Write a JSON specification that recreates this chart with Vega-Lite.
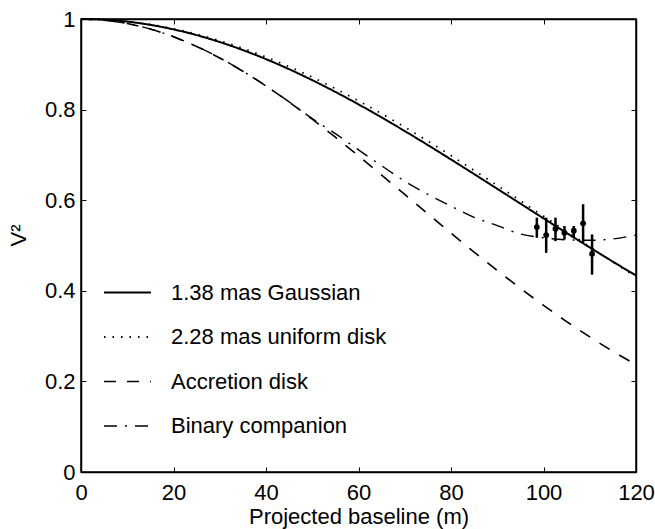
{
  "$schema": "https://vega.github.io/schema/vega-lite/v6.json",
  "width": 555,
  "height": 453,
  "autosize": {"type": "none"},
  "padding": {"left": 81, "top": 19, "right": 19, "bottom": 57},
  "background": "white",
  "config": {
    "font": "Liberation Sans",
    "view": {"stroke": "black", "strokeWidth": 1.5},
    "axis": {"domainColor": "black", "domainWidth": 1.5, "tickColor": "black", "tickWidth": 1, "labelColor": "black", "labelFontSize": 22, "titleFontSize": 22, "titleFontWeight": "normal", "titleColor": "black", "grid": false, "labelFont": "Liberation Sans", "titleFont": "Liberation Sans"}
  },
  "datasets": {
    "curves": [
      {"model": "1.38 mas Gaussian", "x": 0, "v": 1},
      {"model": "1.38 mas Gaussian", "x": 5, "v": 0.99855},
      {"model": "1.38 mas Gaussian", "x": 10, "v": 0.99422},
      {"model": "1.38 mas Gaussian", "x": 15, "v": 0.98703},
      {"model": "1.38 mas Gaussian", "x": 20, "v": 0.97707},
      {"model": "1.38 mas Gaussian", "x": 25, "v": 0.9644},
      {"model": "1.38 mas Gaussian", "x": 30, "v": 0.94914},
      {"model": "1.38 mas Gaussian", "x": 35, "v": 0.93142},
      {"model": "1.38 mas Gaussian", "x": 40, "v": 0.91137},
      {"model": "1.38 mas Gaussian", "x": 45, "v": 0.88918},
      {"model": "1.38 mas Gaussian", "x": 50, "v": 0.86502},
      {"model": "1.38 mas Gaussian", "x": 55, "v": 0.83908},
      {"model": "1.38 mas Gaussian", "x": 60, "v": 0.81155},
      {"model": "1.38 mas Gaussian", "x": 65, "v": 0.78265},
      {"model": "1.38 mas Gaussian", "x": 70, "v": 0.75263},
      {"model": "1.38 mas Gaussian", "x": 75, "v": 0.72164},
      {"model": "1.38 mas Gaussian", "x": 80, "v": 0.68991},
      {"model": "1.38 mas Gaussian", "x": 85, "v": 0.65767},
      {"model": "1.38 mas Gaussian", "x": 90, "v": 0.62513},
      {"model": "1.38 mas Gaussian", "x": 95, "v": 0.5925},
      {"model": "1.38 mas Gaussian", "x": 100, "v": 0.5599},
      {"model": "1.38 mas Gaussian", "x": 105, "v": 0.5276},
      {"model": "1.38 mas Gaussian", "x": 110, "v": 0.4957},
      {"model": "1.38 mas Gaussian", "x": 115, "v": 0.46437},
      {"model": "1.38 mas Gaussian", "x": 120, "v": 0.43378},
      {"model": "2.28 mas uniform disk", "x": 0, "v": 1},
      {"model": "2.28 mas uniform disk", "x": 10, "v": 0.99457},
      {"model": "2.28 mas uniform disk", "x": 20, "v": 0.97844},
      {"model": "2.28 mas uniform disk", "x": 30, "v": 0.95203},
      {"model": "2.28 mas uniform disk", "x": 40, "v": 0.91607},
      {"model": "2.28 mas uniform disk", "x": 50, "v": 0.87149},
      {"model": "2.28 mas uniform disk", "x": 60, "v": 0.81946},
      {"model": "2.28 mas uniform disk", "x": 70, "v": 0.76131},
      {"model": "2.28 mas uniform disk", "x": 80, "v": 0.6985},
      {"model": "2.28 mas uniform disk", "x": 90, "v": 0.63252},
      {"model": "2.28 mas uniform disk", "x": 100, "v": 0.56492},
      {"model": "2.28 mas uniform disk", "x": 110, "v": 0.49719},
      {"model": "2.28 mas uniform disk", "x": 115, "v": 0.46372},
      {"model": "2.28 mas uniform disk", "x": 120, "v": 0.43073},
      {"model": "Accretion disk", "x": 0, "v": 1},
      {"model": "Accretion disk", "x": 5, "v": 0.9975},
      {"model": "Accretion disk", "x": 10, "v": 0.99005},
      {"model": "Accretion disk", "x": 15, "v": 0.97775},
      {"model": "Accretion disk", "x": 20, "v": 0.96079},
      {"model": "Accretion disk", "x": 25, "v": 0.93941},
      {"model": "Accretion disk", "x": 30, "v": 0.91393},
      {"model": "Accretion disk", "x": 35, "v": 0.8847},
      {"model": "Accretion disk", "x": 40, "v": 0.85214},
      {"model": "Accretion disk", "x": 45, "v": 0.81669},
      {"model": "Accretion disk", "x": 50, "v": 0.7788},
      {"model": "Accretion disk", "x": 55, "v": 0.73897},
      {"model": "Accretion disk", "x": 60, "v": 0.69768},
      {"model": "Accretion disk", "x": 65, "v": 0.65541},
      {"model": "Accretion disk", "x": 70, "v": 0.61263},
      {"model": "Accretion disk", "x": 75, "v": 0.56978},
      {"model": "Accretion disk", "x": 80, "v": 0.52729},
      {"model": "Accretion disk", "x": 85, "v": 0.48554},
      {"model": "Accretion disk", "x": 90, "v": 0.44486},
      {"model": "Accretion disk", "x": 95, "v": 0.40555},
      {"model": "Accretion disk", "x": 100, "v": 0.36788},
      {"model": "Accretion disk", "x": 105, "v": 0.33204},
      {"model": "Accretion disk", "x": 110, "v": 0.2982},
      {"model": "Accretion disk", "x": 115, "v": 0.26646},
      {"model": "Accretion disk", "x": 120, "v": 0.23693},
      {"model": "Binary companion", "x": 0, "v": 1},
      {"model": "Binary companion", "x": 5, "v": 0.9975},
      {"model": "Binary companion", "x": 10, "v": 0.9901},
      {"model": "Binary companion", "x": 15, "v": 0.9778},
      {"model": "Binary companion", "x": 20, "v": 0.9608},
      {"model": "Binary companion", "x": 25, "v": 0.9394},
      {"model": "Binary companion", "x": 30, "v": 0.9139},
      {"model": "Binary companion", "x": 35, "v": 0.8847},
      {"model": "Binary companion", "x": 40, "v": 0.8522},
      {"model": "Binary companion", "x": 45, "v": 0.817},
      {"model": "Binary companion", "x": 50, "v": 0.78},
      {"model": "Binary companion", "x": 55, "v": 0.747},
      {"model": "Binary companion", "x": 60, "v": 0.711},
      {"model": "Binary companion", "x": 65, "v": 0.676},
      {"model": "Binary companion", "x": 70, "v": 0.642},
      {"model": "Binary companion", "x": 75, "v": 0.613},
      {"model": "Binary companion", "x": 80, "v": 0.587},
      {"model": "Binary companion", "x": 85, "v": 0.562},
      {"model": "Binary companion", "x": 90, "v": 0.544},
      {"model": "Binary companion", "x": 95, "v": 0.5255},
      {"model": "Binary companion", "x": 100, "v": 0.517},
      {"model": "Binary companion", "x": 105, "v": 0.5125},
      {"model": "Binary companion", "x": 110, "v": 0.5115},
      {"model": "Binary companion", "x": 115, "v": 0.5145},
      {"model": "Binary companion", "x": 120, "v": 0.523}
    ],
    "obs": [
      {"x": 98.56, "v": 0.5407, "lo": 0.517, "hi": 0.5615},
      {"x": 100.58, "v": 0.523, "lo": 0.4837, "hi": 0.5615},
      {"x": 102.59, "v": 0.537, "lo": 0.5096, "hi": 0.5615},
      {"x": 104.53, "v": 0.5281, "lo": 0.5133, "hi": 0.543},
      {"x": 106.55, "v": 0.5326, "lo": 0.517, "hi": 0.543},
      {"x": 108.56, "v": 0.5489, "lo": 0.5059, "hi": 0.5911},
      {"x": 110.5, "v": 0.4815, "lo": 0.4356, "hi": 0.5244}
    ]
  },
  "layer": [
    {
      "data": {"name": "curves"},
      "mark": {"type": "line", "stroke": "black", "interpolate": "monotone"},
      "encoding": {
        "x": {"field": "x", "type": "quantitative", "scale": {"domain": [0, 120], "nice": false},
          "axis": {"orient": "bottom", "values": [0, 20, 40, 60, 80, 100, 120], "labelExpr": "toString(datum.value)", "title": "Projected baseline (m)", "tickSize": -5, "labelPadding": 15, "titlePadding": 3, "labelFlush": false, "labelOverlap": false}},
        "y": {"field": "v", "type": "quantitative", "scale": {"domain": [0, 1], "nice": false},
          "axis": {"orient": "left", "values": [0, 0.2, 0.4, 0.6, 0.8, 1], "labelExpr": "toString(datum.value)", "title": "V²", "titleY": 216, "tickSize": -5, "labelPadding": 11, "titlePadding": 14, "labelFlush": false, "labelOverlap": false}},
        "strokeDash": {"field": "model", "type": "nominal",
          "scale": {"domain": ["1.38 mas Gaussian", "2.28 mas uniform disk", "Accretion disk", "Binary companion"], "range": [[1, 0], [1.5, 7], [12, 11], [13, 8, 2, 8]]},
          "legend": {"orient": "none", "legendX": 22, "legendY": 249, "title": null, "symbolType": "stroke", "symbolSize": 2209, "symbolStrokeColor": "black", "symbolStrokeWidth": 1.8, "labelFontSize": 22, "labelFont": "Liberation Sans", "labelColor": "black", "labelOffset": 19, "labelLimit": 400, "rowPadding": 8.5, "padding": 0}},
        "strokeWidth": {"field": "model", "type": "nominal",
          "scale": {"domain": ["1.38 mas Gaussian", "2.28 mas uniform disk", "Accretion disk", "Binary companion"], "range": [2, 1.4, 2, 2]}, "legend": null}
      }
    },
    {
      "data": {"name": "obs"},
      "mark": {"type": "rule", "stroke": "black", "strokeWidth": 2.5},
      "encoding": {
        "x": {"field": "x", "type": "quantitative", "scale": {"domain": [0, 120], "nice": false},
          "axis": {"orient": "top", "values": [0, 20, 40, 60, 80, 100, 120], "labels": false, "title": null, "tickSize": -5}},
        "y": {"field": "lo", "type": "quantitative", "scale": {"domain": [0, 1], "nice": false},
          "axis": {"orient": "right", "values": [0, 0.2, 0.4, 0.6, 0.8, 1], "labels": false, "title": null, "tickSize": -5}},
        "y2": {"field": "hi"}
      }
    },
    {
      "data": {"name": "obs"},
      "mark": {"type": "point", "filled": true, "shape": "circle", "size": 34, "color": "black", "opacity": 1},
      "encoding": {
        "x": {"field": "x", "type": "quantitative", "scale": {"domain": [0, 120], "nice": false}, "axis": null},
        "y": {"field": "v", "type": "quantitative", "scale": {"domain": [0, 1], "nice": false}, "axis": null}
      }
    }
  ],
  "resolve": {"axis": {"x": "independent", "y": "independent"}}
}
